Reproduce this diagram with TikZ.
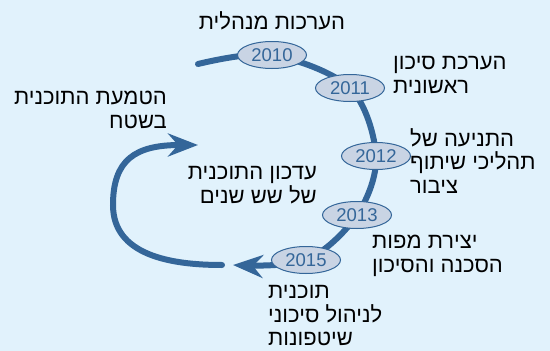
\documentclass[tikz,border=0pt]{standalone}
\usepackage{fontspec}
\setmainfont{Liberation Sans}
\newfontfamily\hebfont[Script=Hebrew]{Liberation Sans}
\TeXXeTstate=1
\usetikzlibrary{arrows.meta,shapes.geometric,backgrounds}

\definecolor{bgblue}{HTML}{E1F2FC}
\definecolor{steel}{HTML}{346699}
\definecolor{yearfill}{HTML}{C9D4E4}

\newcommand{\heb}[1]{\beginR#1\endR}

\begin{document}
\begin{tikzpicture}
    [x=1pt, y=-1pt,
    year/.style={ellipse, draw=steel, fill=yearfill, line width=1pt,
      minimum width=69pt, minimum height=27pt, inner sep=0pt,
      text=steel, font=\fontsize{18.5}{20}\selectfont},
    stage/.style={inner sep=0pt, text=black,
      font=\hebfont\fontsize{22}{23.5}\selectfont},
    loopline/.style={draw=steel, line width=6pt, line cap=round,
      -{Stealth[length=30pt,width=23pt,inset=10pt]}}]
    \useasboundingbox (0,0) rectangle (550,351);
    % years on the cycle
    \node[year] (y2010) at (272,55) {2010};
    \node[year] (y2011) at (350,88) {2011};
    \node[year] (y2012) at (376,156) {2012};
    \node[year] (y2013) at (357,215) {2013};
    \node[year] (y2015) at (306,260) {2015};
    % stages
    \node[stage] (s2010) at (272,21) {\heb{הערכות מנהלית}};
    \node[stage, anchor=west, align=left] (s2011) at (393,75)
      {\heb{הערכת סיכון}\\\heb{ראשונית}};
    \node[stage, anchor=west, align=left] (s2012) at (410,161)
      {\heb{התניעה של}\\\heb{תהליכי שיתוף}\\\heb{ציבור}};
    \node[stage, anchor=west, align=left] (s2013) at (372,256)
      {\heb{יצירת מפות}\\\heb{הסכנה והסיכון}};
    \node[stage, anchor=west, align=left] (s2015) at (268,316)
      {\heb{תוכנית}\\\heb{לניהול סיכוני}\\\heb{שיטפונות}};
    \node[stage, anchor=east, align=right] (impl) at (167,110)
      {\heb{הטמעת התוכנית}\\\heb{בשטח}};
    \node[stage, anchor=east, align=right] (update) at (317,185)
      {\heb{עדכון התוכנית}\\\heb{של שש שנים}};
    % loose ends of the arrows
    \coordinate (start) at (198,64);
    \coordinate (tip1) at (233,265);
    \coordinate (back) at (222,265);
    \coordinate (bend) at (113,205);
    \coordinate (tip2) at (198,145);
  \begin{pgfonlayer}{background}
    \fill[bgblue] (0,0) rectangle (550,351);
    \draw[loopline] plot[smooth, tension=0.55] coordinates
      {(start) (y2010.center) (y2011.center) (y2012.center)
       (y2013.center) (y2015.center) (tip1)};
    \draw[loopline] (back) .. controls (170,265) and (113,255) .. (bend)
      .. controls (113,160) and (135,145) .. (tip2);
  \end{pgfonlayer}
\end{tikzpicture}
\end{document}
